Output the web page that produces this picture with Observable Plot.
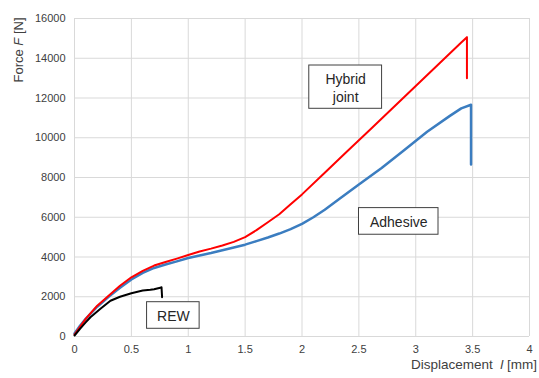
<!DOCTYPE html>
<html><head><meta charset="utf-8">
<script src="https://cdn.jsdelivr.net/npm/d3@7"></script>
<script src="https://cdn.jsdelivr.net/npm/@observablehq/plot@0.6"></script>
<style>body{margin:0;background:#fff}</style>
</head><body><div id="chart"></div>
<script>
// Hybrid joint (red)
const hybridX = [0, 0.05, 0.1, 0.2, 0.3, 0.4, 0.5, 0.6, 0.7, 0.8, 0.9, 1.0, 1.1, 1.2, 1.3, 1.4, 1.5, 1.6, 1.7, 1.8, 1.9, 2.0, 2.2, 2.4, 2.6, 2.8, 3.0, 3.2, 3.4, 3.45, 3.45];
const hybridY = [100, 500, 900, 1550, 2050, 2550, 2980, 3300, 3570, 3750, 3920, 4100, 4280, 4420, 4580, 4760, 5000, 5350, 5750, 6150, 6650, 7150, 8240, 9330, 10420, 11510, 12600, 13700, 14790, 15060, 13000];
// Adhesive (blue)
const adhesiveX = [0, 0.05, 0.1, 0.2, 0.3, 0.4, 0.5, 0.6, 0.7, 0.8, 0.9, 1.0, 1.1, 1.2, 1.3, 1.4, 1.5, 1.6, 1.7, 1.8, 1.9, 2.0, 2.1, 2.2, 2.33, 2.5, 2.7, 2.9, 3.1, 3.3, 3.4, 3.486, 3.486];
const adhesiveY = [150, 550, 900, 1500, 2000, 2450, 2870, 3200, 3450, 3620, 3780, 3950, 4080, 4200, 4340, 4480, 4620, 4800, 4980, 5180, 5400, 5670, 6000, 6380, 6930, 7650, 8480, 9380, 10300, 11100, 11480, 11660, 8650];
// REW (black)
const rewX = [0, 0.05, 0.1, 0.14, 0.228, 0.316, 0.4, 0.5, 0.6, 0.667, 0.7, 0.754, 0.765, 0.77];
const rewY = [50, 400, 720, 970, 1393, 1800, 2000, 2180, 2310, 2350, 2380, 2450, 2480, 1980];

const xTicks = [0, 0.5, 1, 1.5, 2, 2.5, 3, 3.5, 4];
const yTicks = [0, 2000, 4000, 6000, 8000, 10000, 12000, 14000, 16000];

const labelNames = ["Hybrid\njoint", "Adhesive", "REW"];
const labelX1 = [2.064, 2.501, 0.638];
const labelX2 = [2.704, 3.2, 1.1];
const labelY1 = [11457, 5120, 388];
const labelY2 = [13635, 6460, 1726];

const toRows = (xs, ys) => xs.map((x, i) => ({x, y: ys[i]}));
const hybrid = toRows(hybridX, hybridY);
const adhesive = toRows(adhesiveX, adhesiveY);
const rew = toRows(rewX, rewY);
const boxes = labelNames.map((t, i) => ({t, x1: labelX1[i], x2: labelX2[i], y1: labelY1[i], y2: labelY2[i]}));

const chart = Plot.plot({
  width: 539, height: 378,
  marginLeft: 74, marginRight: 10, marginTop: 18, marginBottom: 42,
  x: {domain: [0, 4]},
  y: {domain: [0, 16000]},
  style: {fontFamily: "'Liberation Sans', Arial, sans-serif", fontSize: "11px", color: "#404040", background: "#fff"},
  marks: [
    Plot.gridX(xTicks, {stroke: "#d9d9d9", strokeOpacity: 1}),
    Plot.gridY(yTicks, {stroke: "#d9d9d9", strokeOpacity: 1}),
    Plot.axisX(xTicks, {tickSize: 0, tickPadding: 9, label: null, tickFormat: d => String(d)}),
    Plot.axisY(yTicks, {tickSize: 0, tickPadding: 9, label: null, tickFormat: d => String(d)}),
    Plot.line(adhesive, {x: "x", y: "y", stroke: "#3b7dc0", strokeWidth: 2.5}),
    Plot.line(hybrid, {x: "x", y: "y", stroke: "#ff0000", strokeWidth: 2}),
    Plot.line(rew, {x: "x", y: "y", stroke: "#000000", strokeWidth: 2}),
    Plot.rect(boxes, {x1: "x1", x2: "x2", y1: "y1", y2: "y2", fill: "white", stroke: "#404040", strokeWidth: 1}),
    Plot.text(boxes, {x: d => (d.x1 + d.x2) / 2, y: d => (d.y1 + d.y2) / 2, text: "t", fontSize: 14, lineHeight: 1.3, fill: "#262626"})
  ]
});
document.getElementById("chart").appendChild(chart);

// axis titles with italic variable symbols
const svg = d3.select(chart);
const font = "'Liberation Sans', Arial, sans-serif";
const yt = svg.append("text")
  .attr("transform", "translate(18,50) rotate(-90)")
  .attr("text-anchor", "middle").attr("dominant-baseline", "central")
  .attr("font-family", font).attr("font-size", 13).attr("fill", "#404040");
yt.append("tspan").text("Force ");
yt.append("tspan").attr("font-style", "italic").text("F");
yt.append("tspan").text(" [N]");
const xt = svg.append("text")
  .attr("x", 411).attr("y", 364)
  .attr("text-anchor", "start").attr("dominant-baseline", "central")
  .attr("font-family", font).attr("font-size", 13.5).attr("fill", "#404040")
  .style("white-space", "pre");
xt.append("tspan").text("Displacement  ");
xt.append("tspan").attr("font-style", "italic").text("l");
xt.append("tspan").text(" [mm]");
</script>
</body></html>
